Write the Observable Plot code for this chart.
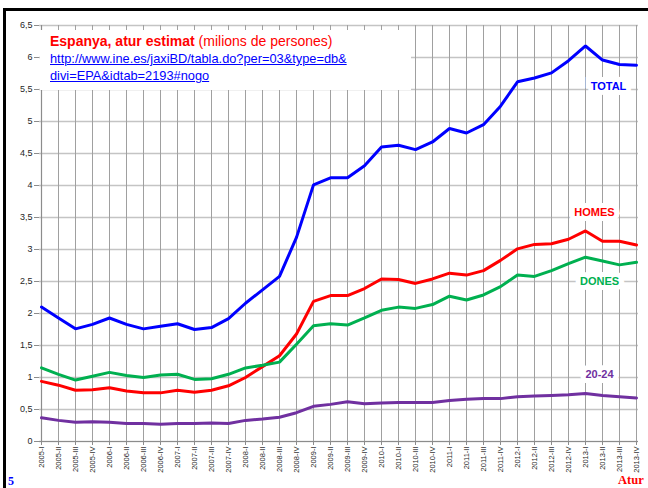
<!DOCTYPE html>
<html>
<head>
<meta charset="utf-8">
<script src="https://cdn.jsdelivr.net/npm/d3@7"></script>
<script src="https://cdn.jsdelivr.net/npm/@observablehq/plot@0.6"></script>
<style>
  body { margin: 0; background: #fff; }
  #wrap { position: relative; width: 648px; height: 488px; overflow: hidden; background: #fff; }
  #wrap svg { position: absolute; left: 0; top: 0; }
  #frame { position: absolute; left: 3px; top: 8px; width: 650px; height: 490px;
           border-left: 3px solid #000; border-top: 3px solid #000; box-sizing: border-box; pointer-events: none; }
  #titlebox { position: absolute; left: 40px; top: 30px; width: 371px; height: 60px; background: #fff;
              font-family: "Liberation Sans", Arial, sans-serif; }
  #t1 { position: absolute; left: 10px; top: 3px; font-size: 14px; color: #ff0000; white-space: nowrap; }
  #t1 b { font-weight: bold; }
  .lnk { position: absolute; left: 10px; font-size: 12.8px; color: #0000ff; text-decoration: underline; white-space: nowrap; }
  #l1 { top: 21px; }
  #l2 { top: 38px; }
  .foot { position: absolute; font-family: "Liberation Serif", "Times New Roman", serif; font-weight: bold; }
  #f1 { left: 8px; top: 474px; font-size: 12px; color: #0000ff; }
  #f2 { left: 618px; top: 473px; font-size: 12.5px; color: #ff0000; }
</style>
</head>
<body>
<div id="wrap"></div>
<script>
const quarters = [
  "2005-I","2005-II","2005-III","2005-IV",
  "2006-I","2006-II","2006-III","2006-IV",
  "2007-I","2007-II","2007-III","2007-IV",
  "2008-I","2008-II","2008-III","2008-IV",
  "2009-I","2009-II","2009-III","2009-IV",
  "2010-I","2010-II","2010-III","2010-IV",
  "2011-I","2011-II","2011-III","2011-IV",
  "2012-I","2012-II","2012-III","2012-IV",
  "2013-I","2013-II","2013-III","2013-IV"
];
const total = [2.10,1.93,1.76,1.83, 1.93,1.83,1.76,1.80, 1.84,1.75,1.78,1.92,
               2.16,2.37,2.58,3.19, 4.01,4.12,4.12,4.31, 4.60,4.63,4.56,4.68,
               4.89,4.82,4.95,5.24, 5.62,5.68,5.76,5.95, 6.18,5.96,5.89,5.88];
const homes = [0.94,0.88,0.80,0.81, 0.84,0.79,0.76,0.76, 0.80,0.77,0.80,0.87,
               1.00,1.17,1.34,1.68, 2.19,2.28,2.28,2.39, 2.54,2.53,2.47,2.54,
               2.63,2.60,2.67,2.83, 3.01,3.08,3.09,3.16, 3.29,3.13,3.13,3.07];
const dones = [1.15,1.05,0.96,1.02, 1.08,1.03,1.00,1.04, 1.05,0.97,0.98,1.05,
               1.15,1.19,1.24,1.52, 1.81,1.84,1.82,1.93, 2.05,2.10,2.08,2.14,
               2.27,2.21,2.29,2.42, 2.60,2.58,2.67,2.78, 2.88,2.82,2.76,2.80];
const age2024 = [0.37,0.33,0.30,0.31, 0.30,0.28,0.28,0.27, 0.28,0.28,0.29,0.28,
                 0.33,0.35,0.38,0.45, 0.55,0.58,0.62,0.59, 0.60,0.61,0.61,0.61,
                 0.64,0.66,0.67,0.67, 0.70,0.71,0.72,0.73, 0.75,0.72,0.70,0.68];
const seriesNames = ["TOTAL", "HOMES", "DONES", "20-24"];
const seriesColors = ["#0000ff", "#ff0000", "#00b050", "#7030a0"];
const yTicks = [0,0.5,1,1.5,2,2.5,3,3.5,4,4.5,5,5.5,6,6.5];
const titleBold = "Espanya, atur estimat";
const titleRest = "(milions de persones)";
const linkLine1 = "http://www.ine.es/jaxiBD/tabla.do?per=03&type=db&";
const linkLine2 = "divi=EPA&idtab=2193#nogo";

const seriesValues = [total, homes, dones, age2024];
const rows = [];
seriesNames.forEach((name, si) => {
  quarters.forEach((q, i) => rows.push({series: name, quarter: q, value: seriesValues[si][i]}));
});
const pointOf = (name, q) => rows.find(r => r.series === name && r.quarter === q);

// label placement: anchor point on series + pixel offset (style)
const labelSpecs = [
  {name: "TOTAL", q: "2013-III", dx: -11, dy: 22},
  {name: "HOMES", q: "2013-I", dx: 9, dy: -18},
  {name: "DONES", q: "2013-II", dx: -3, dy: 20},
  {name: "20-24", q: "2013-II", dx: -3, dy: -21}
];

const fmt = d => String(d).replace(".", ",");

const chart = Plot.plot({
  width: 648,
  height: 488,
  marginLeft: 39,
  marginRight: 10,
  marginTop: 25,
  marginBottom: 47,
  style: {fontFamily: "'Liberation Sans', Arial, sans-serif", background: "transparent", overflow: "visible"},
  x: {type: "point", domain: quarters, padding: 0},
  y: {domain: [0, 6.5]},
  color: {domain: seriesNames, range: seriesColors},
  marks: [
    Plot.gridY(yTicks, {stroke: "#c4c4c4", strokeOpacity: 1, strokeWidth: 1.5}),
    Plot.gridX(quarters, {stroke: "#a0a0a0", strokeOpacity: 1, strokeWidth: 1}),
    Plot.ruleY([0], {stroke: "#8c8c8c", strokeWidth: 1.2}),
    Plot.ruleX([quarters[0]], {stroke: "#8c8c8c", strokeWidth: 1.2}),
    Plot.axisY(yTicks, {tickSize: 5, tickPadding: 2, fontSize: 9, fill: "#262626", stroke: "#8c8c8c",
                        tickFormat: fmt, label: null}),
    Plot.axisX(quarters, {tickRotate: -90, tickSize: 4, tickPadding: 1, fontSize: 7.5, fill: "#262626",
                          stroke: "#8c8c8c", label: null}),
    Plot.line(rows, {x: "quarter", y: "value", z: "series", stroke: "series", strokeWidth: 3,
                     strokeLinejoin: "miter", curve: "linear"}),
    ...labelSpecs.map(s => Plot.text([pointOf(s.name, s.q)], {
      x: "quarter", y: "value", text: () => s.name, dx: s.dx, dy: s.dy,
      fill: seriesColors[seriesNames.indexOf(s.name)], fontWeight: "bold", fontSize: 11,
      stroke: "white", strokeWidth: 10, strokeLinejoin: "miter", paintOrder: "stroke"
    }))
  ]
});

const wrap = document.getElementById("wrap");
wrap.appendChild(chart);

const tb = document.createElement("div");
tb.id = "titlebox";
const t1 = document.createElement("div");
t1.id = "t1";
const b = document.createElement("b");
b.textContent = titleBold;
t1.appendChild(b);
t1.appendChild(document.createTextNode(" " + titleRest));
tb.appendChild(t1);
[linkLine1, linkLine2].forEach((txt, i) => {
  const l = document.createElement("div");
  l.className = "lnk";
  l.id = "l" + (i + 1);
  l.textContent = txt;
  tb.appendChild(l);
});
wrap.appendChild(tb);

const f1 = document.createElement("div");
f1.className = "foot"; f1.id = "f1"; f1.textContent = "5";
const f2 = document.createElement("div");
f2.className = "foot"; f2.id = "f2"; f2.textContent = "Atur";
wrap.appendChild(f1);
wrap.appendChild(f2);

const fr = document.createElement("div");
fr.id = "frame";
wrap.appendChild(fr);
</script>
</body>
</html>
